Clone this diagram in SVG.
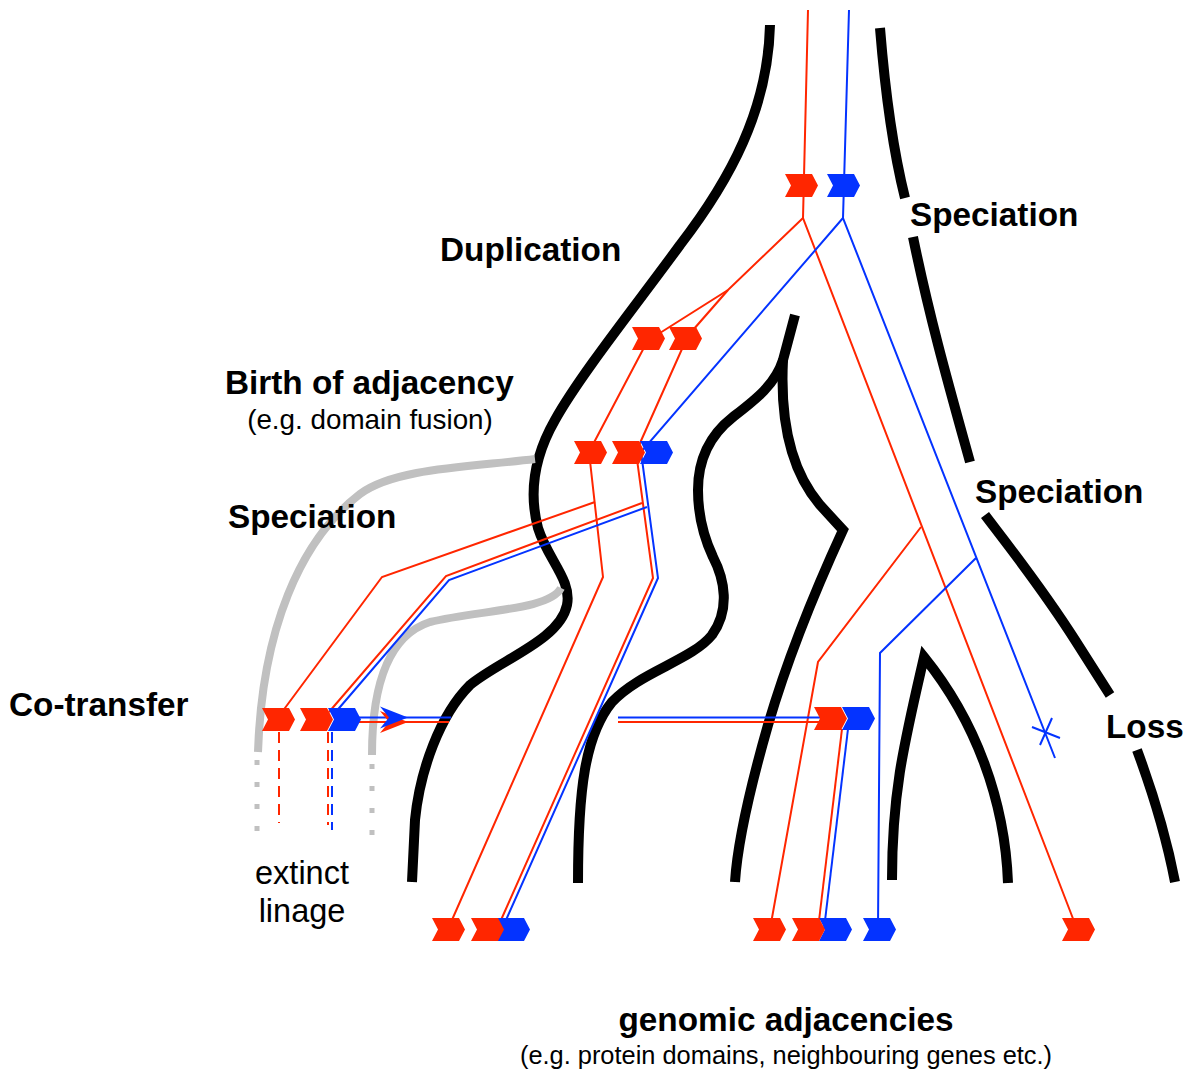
<svg xmlns="http://www.w3.org/2000/svg" xmlns:xlink="http://www.w3.org/1999/xlink" width="1188" height="1072" viewBox="0 0 1188 1072">
<style>
.sp{fill:none;stroke:#000;stroke-width:10;stroke-linecap:butt;stroke-linejoin:miter}
.gr{fill:none;stroke:#c0c0c0;stroke-width:8}
.grd{fill:none;stroke:#c0c0c0;stroke-width:5;stroke-dasharray:5 17}
.r{fill:none;stroke:#ff2600;stroke-width:2}
.b{fill:none;stroke:#0433ff;stroke-width:2}
.rd{fill:none;stroke:#ff2600;stroke-width:2;stroke-dasharray:11 7}
.bd{fill:none;stroke:#0433ff;stroke-width:2;stroke-dasharray:11 7}
.rf{fill:#ff2600}
.bf{fill:#0433ff}
.lb{font-family:"Liberation Sans",Arial,sans-serif;font-weight:bold;font-size:33.3px;fill:#000}
.lr{font-family:"Liberation Sans",Arial,sans-serif;font-size:27.8px;fill:#000}
.lx{font-family:"Liberation Sans",Arial,sans-serif;font-size:32.5px;fill:#000}
</style>
<defs>
<path id="chev" d="M0,0 H27 L33,11.5 L27,23 H0 L6,11.5 Z"/>
</defs>
<g id="species-tree">
<path class="sp" d="M770,25 C768,110 730,180 680,245 C640,300 580,375 555,420 C535,455 528,490 538,528 C548,560 572,580 567,605 C560,640 500,660 470,685 C440,715 420,770 415,820 L412,882"/>
<path class="sp" d="M795,315 L783,360 C775,385 755,400 733,417 C710,435 698,460 698,490 C698,520 705,540 713,557 C725,580 730,610 712,635 C692,660 640,672 612,702 C585,735 578,790 578,883"/>
<path class="sp" d="M783,360 C780,420 790,470 820,505 L843,530 C820,580 790,650 768,725 C748,795 737,850 735,882"/>
<path class="sp" d="M880,28 C885,90 893,150 905,198"/>
<path class="sp" d="M913,237 C930,320 950,390 970,462"/>
<path class="sp" d="M985,515 C1000,535 1040,585 1075,640 L1110,695"/>
<path class="sp" d="M1137,750 C1150,785 1165,830 1175,882"/>
<path class="sp" d="M892,880 C892,790 905,740 924,657 C975,720 1005,800 1008,883"/>
</g>
<g id="extinct-lineage">
<path class="gr" d="M535,459 C470,467 395,468 360,494 C300,540 262,630 258,752"/>
<path class="gr" d="M561,588 C550,610 480,610 430,622 C390,635 372,680 372,755"/>
<path class="grd" d="M257,760 L257,836"/>
<path class="grd" d="M372,764 L372,840"/>
</g>
<g id="connectors">
<path class="r" d="M808,10 L803,218 L1077,929"/>
<path class="b" d="M849,10 L843,218 L1055,758"/>
<path class="r" d="M803,218 L728,290 L652,338"/>
<path class="r" d="M728,290 L686,338"/>
<path class="r" d="M648,340 L589,452 L603,577 L448,929"/>
<path class="r" d="M686,340 L636,452 L653,578 L497,929"/>
<path class="b" d="M843,218 L641,452 L658,578 L502,929"/>
<path class="r" d="M595,502 L382,577 L282,712"/>
<path class="r" d="M642,503 L446,576 L329,712"/>
<path class="b" d="M647,507 L449,580 L334,714"/>
<path class="rd" d="M279,732 L279,823"/>
<path class="rd" d="M328,732 L328,825"/>
<path class="bd" d="M332,732 L332,830"/>
<path class="r" d="M921,527 L818,662 L770,929"/>
<path class="b" d="M976,558 L880,653 L878,929"/>
<path class="r" d="M842,729 L818,929"/>
<path class="b" d="M848,729 L824,929"/>
<path class="r" d="M355,722 L449,722 M618,722 L830,722"/>
<path class="b" d="M355,717.5 L451,717.5 M618,717.5 L830,717.5"/>
<path class="rf" d="M380,711 L408,722 L380,733 L389,722 Z"/>
<path class="bf" d="M380,706.5 L408,717.5 L380,728.5 L389,717.5 Z"/>
<path class="b" d="M1032,727 L1060,738 M1052,718 L1040,745"/>
</g>
<g id="adjacencies">
<use href="#chev" class="rf" x="785" y="174"/>
<use href="#chev" class="bf" x="827" y="174"/>
<use href="#chev" class="rf" x="632" y="327"/>
<use href="#chev" class="rf" x="669" y="327"/>
<use href="#chev" class="bf" x="640" y="441"/>
<use href="#chev" class="rf" x="574" y="441"/>
<use href="#chev" class="rf" x="612" y="441"/>
<use href="#chev" class="bf" x="328" y="708"/>
<use href="#chev" class="rf" x="262" y="708"/>
<use href="#chev" class="rf" x="300" y="708"/>
<use href="#chev" class="bf" x="842" y="707"/>
<use href="#chev" class="rf" x="814" y="707"/>
<use href="#chev" class="bf" x="497" y="918"/>
<use href="#chev" class="rf" x="432" y="918"/>
<use href="#chev" class="rf" x="471" y="918"/>
<use href="#chev" class="bf" x="819" y="918"/>
<use href="#chev" class="rf" x="753" y="918"/>
<use href="#chev" class="rf" x="792" y="918"/>
<use href="#chev" class="bf" x="863" y="918"/>
<use href="#chev" class="rf" x="1062" y="918"/>
</g>
<g id="labels">
<text class="lb" x="440" y="261">Duplication</text>
<text class="lb" x="910" y="226">Speciation</text>
<text class="lb" x="225" y="394">Birth of adjacency</text>
<text class="lr" x="370" y="429" text-anchor="middle">(e.g. domain fusion)</text>
<text class="lb" x="228" y="528">Speciation</text>
<text class="lb" x="975" y="503">Speciation</text>
<text class="lb" x="9" y="716">Co-transfer</text>
<text class="lb" x="1106" y="738">Loss</text>
<text class="lx" x="302" y="884" text-anchor="middle">extinct</text>
<text class="lx" x="302" y="922" text-anchor="middle">linage</text>
<text class="lb" x="786" y="1031" text-anchor="middle">genomic adjacencies</text>
<text class="lr" x="786" y="1064" text-anchor="middle" style="font-size:25.4px">(e.g. protein domains, neighbouring genes etc.)</text>
</g>
</svg>
